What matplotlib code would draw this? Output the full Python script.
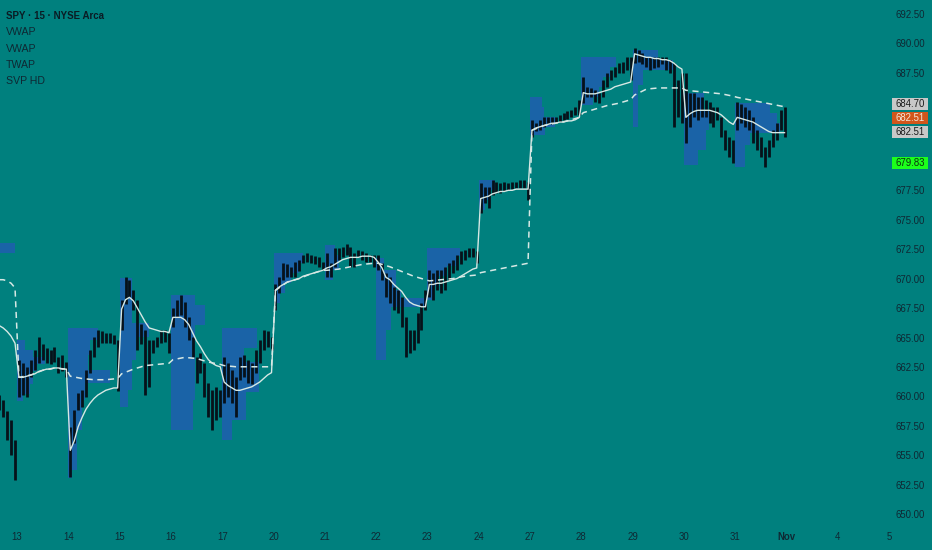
import matplotlib
matplotlib.use("Agg")
import matplotlib.pyplot as plt
from matplotlib.patches import Rectangle
from matplotlib.transforms import blended_transform_factory

# ---------------- data ----------------
session_names = ["Oct 10", "Oct 13", "Oct 14", "Oct 15", "Oct 16", "Oct 17",
                 "Oct 20", "Oct 21", "Oct 22", "Oct 23", "Oct 24",
                 "Oct 27", "Oct 28", "Oct 29", "Oct 30", "Oct 31"]
session_pos = [-1, 0, 1, 2, 3, 4, 5, 6, 7, 8, 9, 10, 11, 12, 13, 14]
first_bar = [8, 0, 0, 0, 0, 0, 0, 0, 0, 0, 0, 0, 0, 0, 0, 0]
bars_per_session = 13

bar_high = [
    [660.2, 659.8, 658.8, 658.1, 656.4],
    [663.2, 662.9, 662.6, 663.2, 664.0, 665.1, 664.5, 664.2, 664.0, 664.3, 663.4, 663.6, 663.0],
    [657.5, 658.9, 660.4, 660.6, 662.3, 664.0, 665.1, 665.7, 665.6, 665.5, 665.5, 665.3, 664.9],
    [668.3, 670.2, 670.0, 669.1, 668.3, 666.2, 665.7, 664.9, 664.9, 665.1, 665.7, 665.7, 665.5],
    [667.6, 668.3, 668.7, 668.1, 666.8, 665.1, 663.4, 663.8, 662.9, 661.2, 660.6, 660.9, 660.6],
    [663.4, 662.9, 662.3, 661.7, 663.4, 663.6, 663.2, 662.9, 664.0, 664.9, 665.7, 665.6, 665.1],
    [669.6, 670.2, 671.4, 671.3, 671.1, 671.5, 671.7, 672.1, 672.3, 672.1, 672.0, 671.9, 671.5],
    [672.3, 671.4, 672.7, 672.7, 672.8, 673.0, 672.8, 672.3, 672.5, 672.4, 672.3, 672.1, 672.1],
    [672.1, 671.4, 670.6, 670.2, 669.4, 669.1, 668.5, 666.8, 665.7, 665.7, 667.2, 668.0, 669.1],
    [670.8, 670.6, 670.8, 670.8, 671.1, 671.4, 671.7, 672.1, 672.4, 672.5, 672.7, 672.7, 672.4],
    [678.2, 677.9, 677.9, 678.5, 678.3, 678.2, 678.3, 678.2, 678.3, 678.3, 678.5, 678.5, 678.3],
    [683.6, 683.3, 683.6, 683.8, 683.8, 683.8, 683.8, 684.0, 684.2, 684.3, 684.4, 684.7, 685.3],
    [687.2, 686.4, 686.3, 686.1, 685.9, 687.0, 687.6, 687.8, 688.1, 688.4, 688.5, 688.9, 688.9],
    [689.7, 689.5, 689.3, 688.9, 688.9, 688.9, 688.9, 688.9, 688.9, 688.7, 688.4, 687.0, 687.6],
    [687.6, 685.9, 685.9, 685.5, 685.5, 685.3, 685.1, 684.7, 684.7, 683.8, 682.7, 682.1, 681.9],
    [685.1, 684.9, 684.7, 684.4, 683.8, 682.7, 682.1, 681.3, 681.9, 682.7, 683.3, 684.4, 684.7],
]
bar_low = [
    [658.9, 658.3, 656.4, 655.1, 653.0],
    [660.0, 660.2, 660.0, 661.7, 662.3, 662.9, 663.2, 662.9, 662.8, 663.0, 662.1, 662.2, 661.7],
    [653.2, 656.1, 658.9, 659.2, 660.0, 662.1, 663.4, 664.3, 664.6, 664.6, 664.6, 664.5, 660.5],
    [665.7, 667.9, 668.5, 667.4, 664.0, 664.5, 660.2, 660.9, 663.8, 664.3, 664.6, 664.7, 663.8],
    [666.0, 666.8, 667.0, 666.0, 664.9, 663.4, 661.2, 662.1, 660.0, 658.3, 657.2, 658.1, 658.3],
    [659.5, 660.0, 659.5, 658.3, 661.5, 661.7, 661.2, 661.1, 662.1, 662.9, 664.0, 664.3, 664.0],
    [667.4, 668.9, 670.0, 670.2, 670.2, 670.2, 670.7, 671.4, 671.5, 671.4, 671.3, 671.1, 670.8],
    [670.2, 670.2, 671.1, 671.7, 671.9, 672.1, 671.1, 671.1, 671.9, 671.7, 671.5, 671.5, 671.1],
    [670.8, 670.0, 668.5, 668.0, 667.4, 667.2, 666.0, 663.4, 663.8, 664.0, 664.6, 665.7, 667.4],
    [668.5, 668.3, 669.1, 668.9, 669.1, 670.0, 670.6, 670.8, 671.3, 671.7, 671.9, 671.9, 671.4],
    [675.7, 676.5, 676.1, 677.2, 677.4, 677.4, 677.5, 677.6, 677.7, 677.8, 677.8, 677.8, 676.8],
    [682.1, 682.6, 682.7, 683.0, 683.2, 683.2, 683.3, 683.4, 683.6, 683.7, 683.8, 684.0, 684.0],
    [685.0, 685.5, 685.5, 685.1, 685.0, 685.5, 686.4, 687.0, 687.2, 687.6, 687.6, 687.8, 687.0],
    [688.4, 688.5, 688.3, 688.1, 687.8, 688.0, 688.1, 688.3, 687.8, 687.6, 683.0, 683.8, 683.3],
    [681.6, 683.0, 683.8, 683.6, 683.8, 683.8, 683.3, 683.0, 683.6, 682.1, 681.0, 680.4, 679.9],
    [682.7, 683.3, 683.0, 682.7, 681.6, 681.0, 680.4, 679.6, 680.4, 681.3, 681.9, 682.7, 682.1],
]
session_vwap = [
    [666.1, 665.9, 665.6, 665.2, 664.6],
    [661.7, 661.7, 661.8, 661.9, 662.0, 662.2, 662.3, 662.4, 662.4, 662.5, 662.5, 662.4, 662.4],
    [655.5, 656.3, 657.5, 658.3, 659.0, 659.5, 659.9, 660.2, 660.4, 660.6, 660.7, 660.8, 660.8],
    [667.5, 668.3, 668.5, 668.2, 667.6, 667.0, 666.4, 665.9, 665.8, 665.7, 665.6, 665.6, 665.5],
    [666.8, 666.8, 666.8, 666.6, 666.2, 665.5, 664.8, 664.3, 663.7, 663.2, 662.9, 662.7, 662.6],
    [661.3, 661.0, 660.8, 660.6, 660.6, 660.7, 660.8, 660.9, 661.1, 661.3, 661.6, 661.9, 662.1],
    [669.1, 669.4, 669.6, 669.8, 669.9, 670.0, 670.1, 670.3, 670.4, 670.5, 670.6, 670.7, 670.8],
    [671.0, 671.1, 671.3, 671.5, 671.7, 671.8, 671.9, 671.9, 671.9, 672.0, 672.0, 672.0, 671.9],
    [671.5, 671.0, 670.2, 670.0, 669.6, 669.3, 669.0, 668.5, 668.1, 667.9, 667.8, 667.7, 667.7],
    [669.6, 669.6, 669.7, 669.7, 669.8, 669.9, 670.0, 670.1, 670.3, 670.5, 670.7, 670.9, 671.0],
    [676.9, 677.0, 677.1, 677.3, 677.4, 677.5, 677.5, 677.6, 677.6, 677.7, 677.7, 677.7, 677.7],
    [682.7, 682.9, 683.0, 683.1, 683.2, 683.3, 683.3, 683.4, 683.4, 683.5, 683.5, 683.6, 683.8],
    [685.9, 685.8, 685.8, 685.8, 685.9, 686.0, 686.1, 686.2, 686.4, 686.5, 686.6, 686.7, 686.8],
    [689.2, 689.1, 689.0, 688.9, 688.9, 688.8, 688.8, 688.7, 688.7, 688.6, 688.4, 688.1, 687.9],
    [683.8, 684.1, 684.3, 684.4, 684.4, 684.4, 684.4, 684.3, 684.2, 684.0, 683.7, 683.4, 683.2],
    [683.8, 683.7, 683.6, 683.5, 683.4, 683.2, 683.0, 682.8, 682.6, 682.5, 682.5, 682.5, 682.5],
]
weekly_bar_idx = [[8, 9, 10, 11, 12]] + [[0, 3, 6, 9, 12]] * 15
weekly_vwap = [
    [670.0, 670.0, 669.9, 669.7, 669.3],
    [661.7, 661.9, 662.3, 662.5, 662.4],
    [661.8, 661.6, 661.5, 661.5, 661.6],
    [662.0, 662.4, 662.7, 662.8, 662.9],
    [663.2, 663.4, 663.3, 663.0, 662.8],
    [662.7, 662.6, 662.6, 662.6, 662.6],
    [669.1, 669.8, 670.1, 670.5, 670.8],
    [670.8, 670.9, 671.1, 671.3, 671.4],
    [671.4, 671.1, 670.7, 670.3, 670.0],
    [669.9, 670.0, 670.1, 670.3, 670.4],
    [670.6, 670.8, 671.0, 671.2, 671.4],
    [682.7, 683.1, 683.3, 683.5, 683.8],
    [684.2, 684.5, 684.8, 685.0, 685.3],
    [685.7, 686.2, 686.3, 686.3, 686.3],
    [686.1, 686.0, 685.9, 685.8, 685.6],
    [685.5, 685.3, 685.1, 684.9, 684.7],
]
# session volume profile: bin edges (price, top -> bottom) and bar lengths (fraction of a session)
svp_edges = [
    [673.1, 672.3],
    [664.88, 664.03, 663.44, 662.84, 662.25, 661.14, 660.29, 659.69],
    [665.9, 664.88, 663.61, 662.33, 661.24, 659.78, 657.23, 653.83, 653.15],
    [670.15, 668.28, 666.32, 665.14, 663.18, 660.63, 659.19],
    [668.7, 667.86, 666.15, 663.18, 659.78, 657.23],
    [665.9, 664.2, 663.01, 660.46, 658.08, 656.38],
    [672.27, 671.42, 670.57, 669.72, 668.87, 668.03, 667.43],
    [672.95, 672.1, 670.83, 669.98],
    [671.85, 670.83, 669.13, 668.45, 667.69, 665.73, 663.18],
    [672.7, 672.02, 671.17, 670.32, 669.47, 668.28],
    [678.48, 677.63, 676.78, 675.93],
    [685.53, 684.69, 683.84, 682.99, 682.3],
    [688.94, 688.09, 687.23, 686.38, 685.53, 684.86],
    [689.53, 688.68, 687.83, 686.56, 682.99],
    [685.88, 684.43, 682.73, 681.03, 679.76],
    [685.02, 684.18, 683.33, 682.48, 681.46, 679.6],
]
svp_widths = [
    [0.96],
    [0.16, 0.31, 0.55, 0.39, 0.31, 0.25, 0.12],
    [0.58, 0.43, 0.39, 0.82, 0.33, 0.27, 0.16, 0.08],
    [0.25, 0.25, 0.58, 0.31, 0.25, 0.16],
    [0.47, 0.66, 0.47, 0.47, 0.43],
    [0.68, 0.43, 0.72, 0.47, 0.2],
    [0.58, 0.49, 0.35, 0.23, 0.12, 0.06],
    [0.2, 0.27, 0.16],
    [0.16, 0.39, 0.49, 0.97, 0.29, 0.2],
    [0.64, 0.55, 0.39, 0.23, 0.12],
    [0.31, 0.23, 0.12],
    [0.23, 0.27, 0.49, 0.29],
    [0.68, 0.55, 0.43, 0.35, 0.23],
    [0.49, 0.78, 0.2, 0.1],
    [0.39, 0.49, 0.43, 0.27],
    [0.68, 0.82, 0.88, 0.29, 0.2],
]
date_labels = ["13", "14", "15", "16", "17", "20", "21", "22", "23", "24",
               "27", "28", "29", "30", "31", "Nov", "4", "5"]
date_pos = [0, 1, 2, 3, 4, 5, 6, 7, 8, 9, 10, 11, 12, 13, 14, 15, 16, 17]
price_ticks = [650.0, 652.5, 655.0, 657.5, 660.0, 662.5, 665.0, 667.5, 670.0,
               672.5, 675.0, 677.5, 680.0, 682.5, 685.0, 687.5, 690.0, 692.5]
price_tags = [("684.70", 684.70), ("682.51", 682.51), ("682.51", 682.51), ("679.83", 679.83)]
legend_lines = ["SPY · 15 · NYSE Arca", "VWAP", "VWAP", "TWAP", "SVP HD"]

# ---------------- style ----------------
BG = "#00807e"
TXT = "#0f2833"
CANDLE = "#06111a"
SVP = "#1a63a7"
VW = "#d6e8e4"
W, H = 932, 550
DAY_PX = 51.3
X0_PX = 17.0
PLOT_H_PX = 525.0
PX_PER_PRICE = 11.765
TOP_PRICE = 692.5 + 15 / PX_PER_PRICE

plt.rcParams["font.family"] = ["Liberation Sans", "DejaVu Sans"]
fig = plt.figure(figsize=(W / 100, H / 100), dpi=100)
fig.patch.set_facecolor(BG)
ax = fig.add_axes([0, 1 - PLOT_H_PX / H, 1, PLOT_H_PX / H])
ax.set_facecolor(BG)
ax.set_xlim(-X0_PX / DAY_PX, (W - X0_PX) / DAY_PX)
ax.set_ylim(TOP_PRICE - PLOT_H_PX / PX_PER_PRICE, TOP_PRICE)
ax.axis("off")

# volume profiles
for pos, edges, widths in zip(session_pos, svp_edges, svp_widths):
    for k, w in enumerate(widths):
        top, bot = edges[k], edges[k + 1]
        ax.add_patch(Rectangle((pos, bot), w, top - bot, facecolor=SVP,
                               edgecolor="none", zorder=1))

# candles (high-low bars) and lines
vx, vy, wx, wy = [], [], [], []
for s, pos in enumerate(session_pos):
    xs = [pos + (first_bar[s] + i + 0.5) / bars_per_session for i in range(len(bar_high[s]))]
    ax.vlines(xs, bar_low[s], bar_high[s], color=CANDLE, lw=2.0, zorder=2)
    vx += xs
    vy += session_vwap[s]
    wx += [pos + (b + 0.5) / bars_per_session for b in weekly_bar_idx[s]]
    wy += weekly_vwap[s]

ax.plot(vx, vy, color=VW, lw=1.0, zorder=3, solid_joinstyle="round")
ax.plot(wx, wy, color=VW, lw=1.1, ls=(0, (4, 3)), zorder=3)

# price scale labels
tr = blended_transform_factory(ax.transAxes, ax.transData)
for p in price_ticks:
    ax.text(925 / W, p, f"{p:.2f}", transform=tr, ha="right", va="center",
            fontsize=6.9, color=TXT, zorder=5)

tag_style = [("#c8c8c8", "#1a1a1a", 104), ("#d2561c", "#f3e6da", 118),
             ("#c8c8c8", "#1a1a1a", 132), ("#1cff1c", "#0b3010", 163)]
for (txt, val), (bgc, fgc, ypx) in zip(price_tags, tag_style):
    yc = TOP_PRICE - ypx / PX_PER_PRICE
    hh = 12.5 / PX_PER_PRICE
    ax.add_patch(Rectangle((891.5 / W, yc - hh / 2), 36.5 / W, hh, transform=tr,
                           facecolor=bgc, edgecolor="none", zorder=6, clip_on=False))
    ax.text(925 / W, yc, txt, transform=tr, ha="right", va="center",
            fontsize=6.9, color=fgc, zorder=7)

# date labels
for lab, d in zip(date_labels, date_pos):
    xpx = X0_PX + d * DAY_PX
    fig.text(xpx / W, 1 - 537 / H, lab, ha="center", va="center", fontsize=6.9,
             color=TXT, fontweight="bold" if lab == "Nov" else "normal")

# legend text
for k, line in enumerate(legend_lines):
    fig.text(6 / W, 1 - (16 + 16.3 * k) / H, line, ha="left", va="center",
             fontsize=7.0 if k == 0 else 7.6, color=TXT if k else "#0a1c24",
             fontweight="bold" if k == 0 else "normal")

fig.savefig("out.png", dpi=100, facecolor=BG)
